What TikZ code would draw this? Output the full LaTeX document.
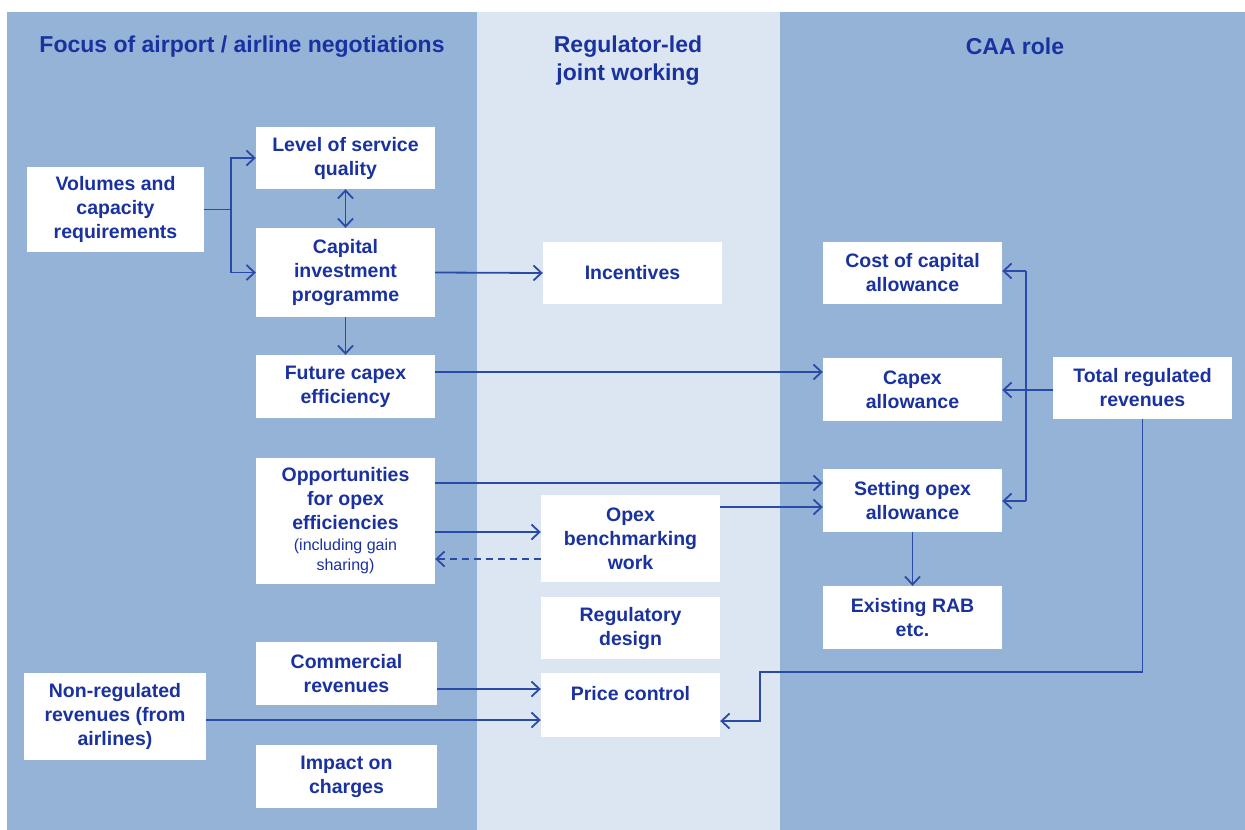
\documentclass[tikz,border=0pt]{standalone}
\usepackage{fontspec}
\setmainfont{Liberation Sans}
\usetikzlibrary{arrows.meta}
\definecolor{panel}{HTML}{95B3D7}
\definecolor{midp}{HTML}{DCE6F2}
\definecolor{txt}{HTML}{1A32A0}
\definecolor{arrowc}{HTML}{2A4AA8}
\newcommand\smalltxt{\fontsize{16}{19}\selectfont\mdseries}
\begin{document}
\begin{tikzpicture}[x=1pt,y=-1pt,
  box/.style={fill=white, minimum width=179pt, minimum height=62pt, inner sep=0pt,
    align=center, text=txt, font=\fontsize{19.5}{24}\selectfont\bfseries},
  header/.style={align=center, text=txt, inner sep=0pt, font=\fontsize{23}{28}\selectfont\bfseries},
  conn/.style={draw=arrowc, line width=1.8pt},
  arr/.style={conn, -{Straight Barb[length=8pt,width=15pt,line width=1.8pt]}},
  arrb/.style={conn, {Straight Barb[length=8pt,width=15pt,line width=1.8pt]}-{Straight Barb[length=8pt,width=15pt,line width=1.8pt]}},
]
\useasboundingbox (0,0) rectangle (1245,830);
\fill[white] (0,0) rectangle (1245,830);
\fill[panel] (7,12) rectangle (477,830);
\fill[midp] (477,12) rectangle (780,830);
\fill[panel] (780,12) rectangle (1245,830);

\node[header] (h1) at (242,46.5) {Focus of airport / airline negotiations};
\node[header] (h2) at (628,60.5) {Regulator-led\\joint working};
\node[header] (h3) at (1015,46) {CAA role};

\node[box, minimum width=177pt, minimum height=85pt] (vol) at (115.5,209.5) {Volumes and\\capacity\\requirements};
\node[box] (lvl) at (345.5,158) {Level of service\\quality};
\node[box, minimum height=89pt] (cap) at (345.5,272.5) {Capital\\investment\\programme};
\node[box, minimum height=63pt] (fut) at (345.5,386.5) {Future capex\\efficiency};
\node[box, minimum height=126pt] (opp) at (345.5,521) {Opportunities\\for opex\\efficiencies\\[-3pt]{\smalltxt (including gain}\\[-4pt]{\smalltxt sharing)}};
\node[box, minimum width=181pt, minimum height=63pt] (com) at (346.5,673.5) {Commercial\\revenues};
\node[box, minimum width=182pt, minimum height=87pt] (non) at (115,716.5) {Non-regulated\\revenues (from\\airlines)};
\node[box, minimum width=181pt, minimum height=63pt] (imp) at (346.5,776.5) {Impact on\\charges};

\node[box] (inc) at (632.5,273) {Incentives};
\node[box, minimum height=87pt] (ben) at (630.5,538.5) {Opex\\benchmarking\\work};
\node[box] (reg) at (630.5,628) {Regulatory\\design};
\node[box, minimum height=64pt] (pri) at (630.5,705) {Price control\\\mbox{}};

\node[box] (coc) at (912.5,273) {Cost of capital\\allowance};
\node[box, minimum height=63pt] (cpx) at (912.5,389.5) {Capex\\allowance};
\node[box] (tot) at (1142.5,388) {Total regulated\\revenues};
\node[box, minimum height=63pt] (set) at (912.5,500.5) {Setting opex\\allowance};
\node[box, minimum height=63pt] (rab) at (912.5,617.5) {Existing RAB\\etc.};

% connectors
\coordinate (j1) at (231,209.5);
\draw[conn] (vol.east) -- (j1);
\draw[arr] (j1) |- (lvl.west);
\draw[arr] (j1) |- (cap.west);
\draw[arrb] (lvl.south) -- (cap.north);
\draw[arr] (cap.east) -- (inc.west);
\draw[arr] (cap.south) -- (fut.north);
\draw[arr] ([yshift=14.5pt]fut.east) coordinate (a1) -- (a1 -| cpx.west);
\draw[arr] ([yshift=38pt]opp.east) coordinate (a2) -- (a2 -| set.west);
\draw[arr] ([yshift=-11pt]opp.east) coordinate (a3) -- (a3 -| ben.west);
\draw[arr, dash pattern=on 7pt off 5pt] ([yshift=-20.5pt]ben.west) coordinate (a4) -- (a4 -| opp.east);
\draw[arr] ([yshift=31.5pt]ben.east) coordinate (a5) -- (a5 -| set.west);
\draw[arr] (set.south) -- (rab.north);
\draw[arr] ([yshift=-2pt]tot.west) coordinate (a6) -- (a6 -| cpx.east);
\coordinate (vt) at (1026,271);
\coordinate (vb) at (1026,501);
\draw[conn] (vt) -- (vb);
\draw[arr] (vt) -- (vt -| coc.east);
\draw[arr] (vb) -- (vb -| set.east);
\coordinate (p1) at (760,672);
\coordinate (p2) at (760,721);
\draw[arr] (tot.south) |- (p1) -- (p2) -- (p2 -| pri.east);
\draw[arr] ([yshift=-15.5pt]com.east) coordinate (a7) -- (a7 -| pri.west);
\draw[arr] ([yshift=-3.5pt]non.east) coordinate (a8) -- (a8 -| pri.west);
\end{tikzpicture}
\end{document}
